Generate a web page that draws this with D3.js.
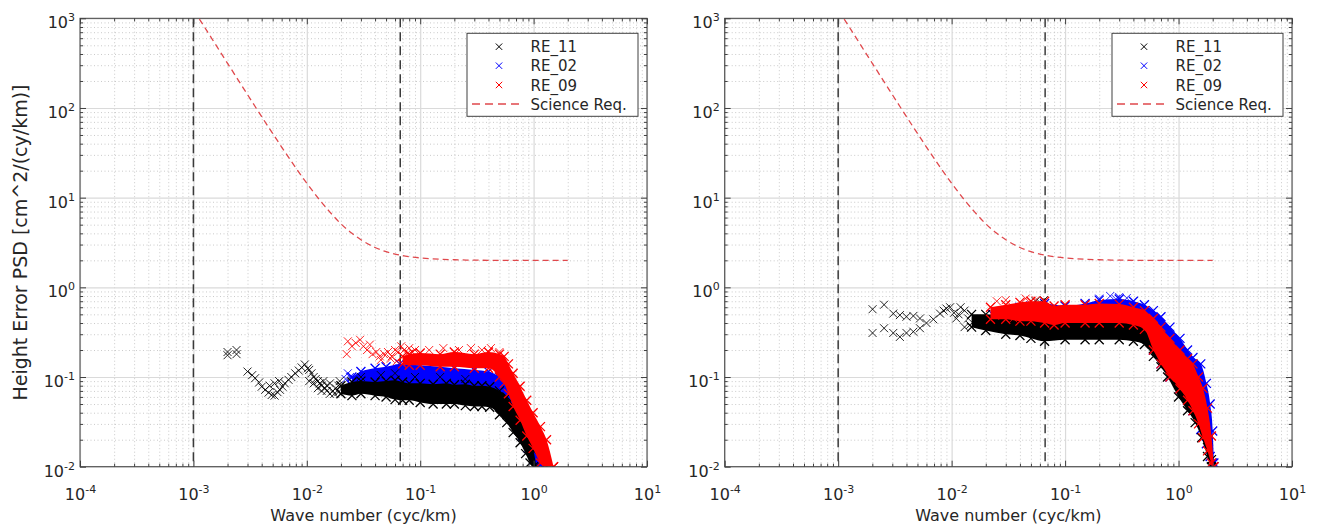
<!DOCTYPE html>
<html><head><meta charset="utf-8">
<script src="https://cdn.jsdelivr.net/npm/d3@7"></script>
<style>
body{margin:0;background:#fff}
svg{display:block}
text{font-family:"DejaVu Sans",sans-serif;fill:#262626}
</style>
</head><body>
<svg id="chart" width="1323" height="527"></svg>
<script>
// ---------------- data ----------------
const xTickExps = [-4, -3, -2, -1, 0, 1];
const yTickExps = [-2, -1, 0, 1, 2, 3];
const seriesNames = ["RE_11", "RE_02", "RE_09"];
const reqName = "Science Req.";
const xTitle = "Wave number (cyc/km)";
const yTitle = "Height Error PSD [cm^2/(cy/km)]";
const refLinesK = [0.001, 0.0667];

// Science requirement curve
const reqK = [0.00113,0.0013,0.0015,0.0018,0.002,0.0025,0.003,0.004,0.005,0.006,0.008,0.01,0.013,0.016,0.02,0.025,0.03,0.04,0.05,0.0667,0.08,0.1,0.15,0.2,0.3,0.5,1,2];
const reqV = [980,742,558,388,315,202,141,80,52,36.7,21.5,14.5,9.4,6.9,5.1,4.0,3.4,2.78,2.5,2.28,2.2,2.13,2.06,2.03,2.01,2.0,2.0,2.0];

// ---- Left panel ----
const L_blackSparseK = [0.002,0.002,0.0024,0.0024,0.003,0.0033,0.0035,0.0038,0.004,0.0043,0.0046,0.0049,0.0052,0.0055,0.0058,0.0061,0.0064,0.0069,0.0073,0.0079,0.0085,0.009,0.0096,0.0102,0.0047,0.0052,0.0057,
  0.0105,0.011,0.0115,0.012,0.0125,0.013,0.0135,0.014,0.0145,0.015,0.016,0.017,0.018,0.019,0.0105,0.0115,0.0125,0.0135,0.015,0.016,0.0175,0.019,0.0195,
  0.03,0.045,0.06,0.09,0.15,0.25];
const L_blackSparseV = [0.19,0.175,0.2,0.18,0.115,0.105,0.097,0.087,0.078,0.072,0.067,0.063,0.062,0.068,0.072,0.078,0.085,0.093,0.1,0.11,0.118,0.128,0.138,0.125,0.08,0.085,0.09,
  0.12,0.11,0.1,0.095,0.09,0.085,0.08,0.09,0.075,0.08,0.085,0.07,0.075,0.08,0.09,0.085,0.075,0.07,0.07,0.065,0.065,0.068,0.09,
  0.1,0.105,0.11,0.1,0.1,0.095];
const L_blackBandK  = [0.02,0.025,0.03,0.04,0.05,0.06,0.07,0.08,0.1,0.13,0.17,0.2,0.25,0.3,0.35,0.41,0.5,0.58,0.66,0.76,0.85,0.93,1.0,1.06];
const L_blackBandHi = [0.08,0.088,0.09,0.088,0.09,0.092,0.088,0.085,0.085,0.083,0.085,0.082,0.083,0.08,0.08,0.078,0.07,0.06,0.048,0.036,0.028,0.021,0.015,0.01];
const L_blackBandLo = [0.065,0.062,0.065,0.062,0.06,0.056,0.055,0.055,0.052,0.05,0.05,0.05,0.048,0.047,0.047,0.046,0.038,0.031,0.024,0.0185,0.014,0.011,0.01,0.01];

const L_blueSparseK = [0.022,0.024,0.026,0.023];
const L_blueSparseV = [0.095,0.1,0.085,0.11];
const L_blueBandK  = [0.025,0.03,0.04,0.05,0.066,0.1,0.15,0.2,0.3,0.4,0.5,0.6,0.7,0.8,0.9,1.0,1.1,1.2];
const L_blueBandHi = [0.1,0.115,0.125,0.13,0.14,0.135,0.13,0.125,0.12,0.115,0.1,0.08,0.058,0.042,0.03,0.021,0.015,0.01];
const L_blueBandLo = [0.08,0.078,0.075,0.072,0.07,0.068,0.066,0.064,0.062,0.058,0.05,0.04,0.03,0.022,0.016,0.012,0.01,0.01];

const L_redSparseK = [0.023,0.0225,0.025,0.027,0.0295,0.0316,0.034,0.036,0.038,0.041,0.044,0.048,0.052,0.056,0.06,0.064,0.068,0.072,0.076,0.08,0.085,0.09,0.12,0.16,0.22,0.28,0.35,0.42,0.5,0.045,0.055,0.062];
const L_redSparseV = [0.25,0.18,0.22,0.24,0.26,0.22,0.2,0.23,0.18,0.19,0.17,0.18,0.19,0.17,0.2,0.19,0.22,0.2,0.18,0.21,0.19,0.2,0.2,0.21,0.2,0.21,0.2,0.21,0.19,0.155,0.16,0.15];
const L_redBandK  = [0.07,0.08,0.1,0.15,0.2,0.3,0.4,0.5,0.55,0.6,0.66,0.76,0.87,0.99,1.15,1.3,1.5];
const L_redBandHi = [0.17,0.18,0.185,0.18,0.19,0.18,0.19,0.18,0.17,0.14,0.11,0.079,0.055,0.04,0.028,0.02,0.01];
const L_redBandLo = [0.14,0.135,0.135,0.13,0.13,0.125,0.125,0.1,0.085,0.065,0.047,0.033,0.022,0.016,0.011,0.01,0.01];

// ---- Right panel ----
const R_blackSparseK = [0.00201,0.00201,0.00254,0.00254,0.00306,0.0035,0.004,0.0046,0.00526,0.00306,0.0035,0.004,0.0046,0.00526,0.006,0.0069,0.0079,0.0085,0.009,0.0097,0.0105,0.011,
  0.0115,0.012,0.013,0.014,0.0145,0.013,0.055,0.06,0.065];
const R_blackSparseV = [0.57,0.31,0.64,0.35,0.51,0.49,0.47,0.48,0.45,0.31,0.28,0.31,0.32,0.35,0.4,0.44,0.51,0.55,0.58,0.6,0.52,0.45,
  0.5,0.6,0.55,0.45,0.38,0.36,0.7,0.68,0.72];
const R_blackBandK  = [0.015,0.02,0.03,0.04,0.05,0.066,0.1,0.15,0.2,0.3,0.4,0.5,0.6,0.7,0.8,1.0,1.2,1.4,1.6,1.8,1.95];
const R_blackBandHi = [0.5,0.5,0.48,0.47,0.5,0.5,0.45,0.44,0.43,0.42,0.4,0.38,0.3,0.22,0.17,0.11,0.08,0.055,0.035,0.02,0.012];
const R_blackBandLo = [0.36,0.33,0.3,0.29,0.27,0.25,0.26,0.26,0.26,0.26,0.25,0.23,0.17,0.13,0.1,0.06,0.042,0.031,0.021,0.013,0.01];

const R_blueSparseK = [0.2,0.25,0.3,0.35,0.28];
const R_blueSparseV = [0.75,0.8,0.78,0.76,0.74];
const R_blueBandK  = [0.023,0.03,0.04,0.05,0.066,0.1,0.15,0.2,0.3,0.4,0.5,0.6,0.7,0.84,1.03,1.2,1.34,1.57,1.76,1.9,2.0,2.05];
const R_blueBandHi = [0.5,0.55,0.6,0.62,0.66,0.62,0.66,0.72,0.74,0.7,0.64,0.55,0.47,0.36,0.27,0.2,0.165,0.14,0.085,0.05,0.025,0.011];
const R_blueBandLo = [0.42,0.42,0.42,0.42,0.42,0.42,0.42,0.42,0.42,0.4,0.36,0.2,0.14,0.1,0.074,0.055,0.042,0.026,0.018,0.013,0.011,0.01];

const R_redSparseK = [0.025,0.03,0.045,0.055,0.035,0.028];
const R_redSparseV = [0.7,0.72,0.75,0.72,0.45,0.48];
const R_redBandK  = [0.022,0.03,0.04,0.05,0.066,0.08,0.1,0.15,0.2,0.3,0.4,0.5,0.6,0.7,0.84,1.03,1.2,1.34,1.5,1.64,1.8,1.95,2.05];
const R_redBandHi = [0.6,0.64,0.68,0.7,0.7,0.62,0.64,0.64,0.66,0.65,0.6,0.55,0.45,0.36,0.27,0.2,0.16,0.14,0.1,0.075,0.045,0.022,0.01];
const R_redBandLo = [0.44,0.44,0.42,0.42,0.4,0.38,0.4,0.4,0.4,0.4,0.38,0.34,0.2,0.14,0.1,0.074,0.055,0.042,0.03,0.021,0.015,0.011,0.01];

// ---------------- drawing ----------------
const colors = {black:"#000000", blue:"#0000ff", red:"#ff0000", req:"#e0484c"};
const svg = d3.select("#chart");
const TOP = 18.3, BOTTOM = 466.7;

const zipBand = (k, lo, hi) => k.map((v, i) => ({k: v, lo: lo[i], hi: hi[i]}));
const zipPts = (k, v) => k.map((kk, i) => ({k: kk, v: v[i]}));

// drawing order: blue, black, red (as seen in the picture)
const panels = [
  {id:"L", left:80, right:647, yLabel:true,
   series:[
     {band:zipBand(L_blueBandK,L_blueBandLo,L_blueBandHi), pts:zipPts(L_blueSparseK,L_blueSparseV), color:colors.blue},
     {band:zipBand(L_blackBandK,L_blackBandLo,L_blackBandHi), pts:zipPts(L_blackSparseK,L_blackSparseV), color:colors.black},
     {band:zipBand(L_redBandK,L_redBandLo,L_redBandHi), pts:zipPts(L_redSparseK,L_redSparseV), color:colors.red}]},
  {id:"R", left:724.7, right:1292, yLabel:false,
   series:[
     {band:zipBand(R_blueBandK,R_blueBandLo,R_blueBandHi), pts:zipPts(R_blueSparseK,R_blueSparseV), color:colors.blue},
     {band:zipBand(R_blackBandK,R_blackBandLo,R_blackBandHi), pts:zipPts(R_blackSparseK,R_blackSparseV), color:colors.black},
     {band:zipBand(R_redBandK,R_redBandLo,R_redBandHi), pts:zipPts(R_redSparseK,R_redSparseV), color:colors.red}]}
];

const xMajor = xTickExps.map(e => Math.pow(10, e));
const yMajor = yTickExps.map(e => Math.pow(10, e));
const minorOf = exps => {
  const out = [];
  for (let i = 0; i < exps.length - 1; i++)
    for (let m = 2; m <= 9; m++) out.push(m * Math.pow(10, exps[i]));
  return out;
};
const xMinor = minorOf(xTickExps);
const yMinor = minorOf(yTickExps);
const crossPath = s => `M${-s},${-s}L${s},${s}M${-s},${s}L${s},${-s}`;

function supLabel(sel, exps){
  sel.each(function(d, i){
    const t = d3.select(this);
    t.text(null);
    t.append("tspan").attr("font-size", 16).text("10");
    t.append("tspan").attr("font-size", 11).attr("dy", -7).text(String(exps[i]));
  });
}

panels.forEach(p => {
  const x = d3.scaleLog().domain([1e-4, 10]).range([p.left, p.right]);
  const y = d3.scaleLog().domain([1e-2, 1e3]).range([BOTTOM, TOP]);
  const w = p.right - p.left, h = BOTTOM - TOP;
  const g = svg.append("g");

  // grid
  const gridMinorX = g.append("g").attr("transform", `translate(0,${BOTTOM})`)
    .call(d3.axisBottom(x).tickValues(xMinor).tickSize(-h).tickFormat(""));
  const gridMinorY = g.append("g").attr("transform", `translate(${p.left},0)`)
    .call(d3.axisLeft(y).tickValues(yMinor).tickSize(-w).tickFormat(""));
  [gridMinorX, gridMinorY].forEach(a => {
    a.select(".domain").remove();
    a.selectAll("line").attr("stroke", "#bdbdbd").attr("stroke-width", 0.8).attr("stroke-dasharray", "1,2.5");
  });
  const gridMajorX = g.append("g").attr("transform", `translate(0,${BOTTOM})`)
    .call(d3.axisBottom(x).tickValues(xMajor).tickSize(-h).tickFormat(""));
  const gridMajorY = g.append("g").attr("transform", `translate(${p.left},0)`)
    .call(d3.axisLeft(y).tickValues(yMajor).tickSize(-w).tickFormat(""));
  [gridMajorX, gridMajorY].forEach(a => {
    a.select(".domain").remove();
    a.selectAll("line").attr("stroke", "#dadada").attr("stroke-width", 1.2);
  });

  // clip
  const clipId = "clip" + p.id;
  svg.append("clipPath").attr("id", clipId).append("rect")
    .attr("x", p.left).attr("y", TOP).attr("width", w).attr("height", h);
  const plot = g.append("g").attr("clip-path", `url(#${clipId})`);

  // reference vertical dashed lines
  plot.selectAll("line.ref").data(refLinesK).join("line").attr("class", "ref")
    .attr("x1", d => x(d)).attr("x2", d => x(d)).attr("y1", TOP).attr("y2", BOTTOM)
    .attr("stroke", "#3a3a3a").attr("stroke-width", 1.5).attr("stroke-dasharray", "9,5");

  // science requirement
  plot.append("path").datum(zipPts(reqK, reqV))
    .attr("d", d3.line().x(d => x(d.k)).y(d => y(d.v)).curve(d3.curveMonotoneX))
    .attr("fill", "none").attr("stroke", colors.req).attr("stroke-width", 1.3)
    .attr("stroke-dasharray", "6,4");

  // data series: dense band + crosses
  const area = d3.area().x(d => x(d.k)).y0(d => y(d.lo)).y1(d => y(d.hi)).curve(d3.curveMonotoneX);
  p.series.forEach(s => {
    plot.append("g").selectAll("path").data(s.pts).join("path")
      .attr("transform", d => `translate(${x(d.k)},${y(d.v)})`)
      .attr("d", crossPath(4)).attr("fill", "none")
      .attr("stroke", s.color).attr("stroke-width", 1).attr("stroke-opacity", 0.85);
    plot.append("path").datum(s.band).attr("d", area).attr("fill", s.color);
    const edges = [];
    s.band.forEach(d => { edges.push({k: d.k, v: d.lo}); edges.push({k: d.k, v: d.hi}); });
    plot.append("g").selectAll("path").data(edges).join("path")
      .attr("transform", d => `translate(${x(d.k)},${y(d.v)})`)
      .attr("d", crossPath(4.5)).attr("fill", "none")
      .attr("stroke", s.color).attr("stroke-width", 1.3);
  });

  // ticks (inside, on all four sides)
  const mk = (axis, tr, vals, len) => {
    const a = g.append("g").attr("transform", tr).call(axis.tickValues(vals).tickSizeInner(-len).tickSizeOuter(0).tickFormat(""));
    a.select(".domain").remove();
    a.selectAll("line").attr("stroke", "#404040").attr("stroke-width", 1);
    return a;
  };
  mk(d3.axisBottom(x), `translate(0,${BOTTOM})`, xMinor, 3);
  mk(d3.axisTop(x), `translate(0,${TOP})`, xMinor, 3);
  mk(d3.axisLeft(y), `translate(${p.left},0)`, yMinor, 3);
  mk(d3.axisRight(y), `translate(${p.right},0)`, yMinor, 3);
  mk(d3.axisTop(x), `translate(0,${TOP})`, xMajor, 6);
  mk(d3.axisRight(y), `translate(${p.right},0)`, yMajor, 6);

  const xAx = g.append("g").attr("transform", `translate(0,${BOTTOM})`)
    .call(d3.axisBottom(x).tickValues(xMajor).tickSizeInner(-6).tickSizeOuter(0).tickPadding(0));
  xAx.select(".domain").remove();
  xAx.selectAll("line").attr("stroke", "#404040");
  xAx.selectAll("text").attr("y", 33).attr("dy", null).attr("fill", "#262626")
    .attr("font-family", "DejaVu Sans").attr("text-anchor", "middle").call(supLabel, xTickExps);

  const yAx = g.append("g").attr("transform", `translate(${p.left},0)`)
    .call(d3.axisLeft(y).tickValues(yMajor).tickSizeInner(-6).tickSizeOuter(0).tickPadding(0));
  yAx.select(".domain").remove();
  yAx.selectAll("line").attr("stroke", "#404040");
  yAx.selectAll("text").attr("x", -5).attr("y", 9.5).attr("dy", null).attr("fill", "#262626")
    .attr("font-family", "DejaVu Sans").attr("text-anchor", "end").call(supLabel, yTickExps);

  // box
  g.append("rect").attr("x", p.left).attr("y", TOP).attr("width", w).attr("height", h)
    .attr("fill", "none").attr("stroke", "#404040").attr("stroke-width", 1);

  // titles
  g.append("text").attr("x", (p.left + p.right) / 2).attr("y", 521)
    .attr("text-anchor", "middle").attr("font-size", 16).text(xTitle);
  if (p.yLabel) {
    g.append("text").attr("transform", `translate(26.5,${(TOP + BOTTOM) / 2}) rotate(-90)`)
      .attr("text-anchor", "middle").attr("font-size", 19).text(yTitle);
  }

  // legend
  const lx = p.right - 9 - 171, ly = TOP + 15;
  const lg = g.append("g");
  lg.append("rect").attr("x", lx).attr("y", ly).attr("width", 171).attr("height", 83)
    .attr("fill", "#fff").attr("stroke", "#404040").attr("stroke-width", 1);
  const entryY = [13.4, 32.4, 51.7, 70.7];
  const legColors = [colors.black, colors.blue, colors.red];
  seriesNames.forEach((n, i) => {
    lg.append("path").attr("transform", `translate(${lx + 32},${ly + entryY[i]})`)
      .attr("d", crossPath(3.2)).attr("fill", "none").attr("stroke", legColors[i]).attr("stroke-width", 1);
    lg.append("text").attr("x", lx + 63.5).attr("y", ly + entryY[i] + 5.5)
      .attr("font-size", 15).text(n);
  });
  lg.append("line").attr("x1", lx + 5).attr("x2", lx + 54)
    .attr("y1", ly + entryY[3]).attr("y2", ly + entryY[3])
    .attr("stroke", colors.req).attr("stroke-width", 1.3).attr("stroke-dasharray", "8,5");
  lg.append("text").attr("x", lx + 63.5).attr("y", ly + entryY[3] + 5.5)
    .attr("font-size", 15).text(reqName);
});
</script>
</body></html>
